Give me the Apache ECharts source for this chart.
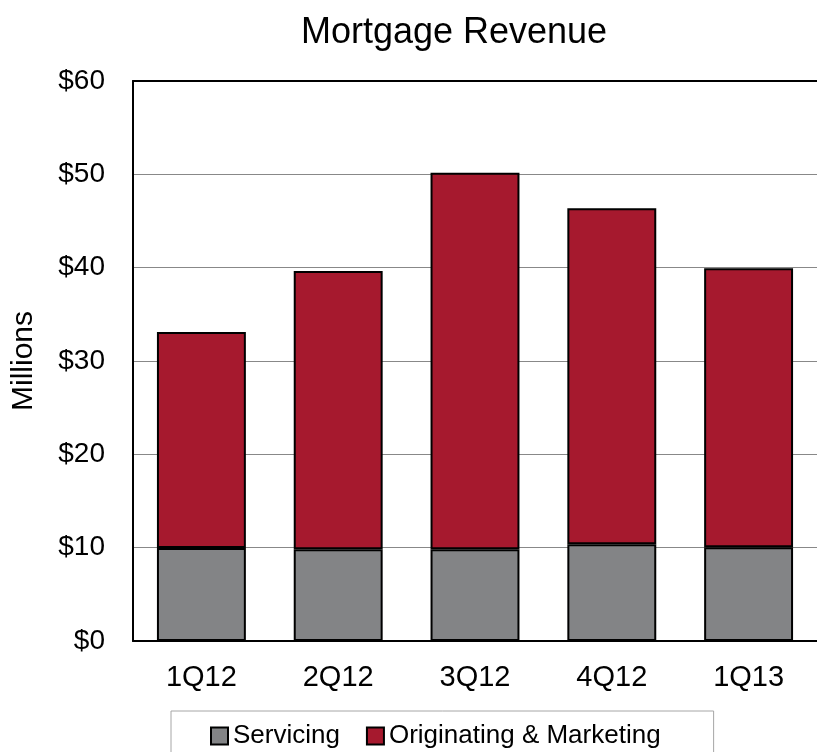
<!DOCTYPE html>
<html>
<head>
<meta charset="utf-8">
<script src="https://cdn.jsdelivr.net/npm/echarts@6/dist/echarts.min.js"></script>
<style>
  html, body { margin: 0; padding: 0; background: #fff; }
  #chart { width: 817px; height: 752px; }
</style>
</head>
<body>
<div id="chart"></div>
<script>
const quarters = ['1Q12', '2Q12', '3Q12', '4Q12', '1Q13']
const servicing = [9.96, 9.82, 9.84, 10.37, 10.05]
const originating = [23.14, 29.82, 40.34, 35.99, 29.89]
const yTicks = [0, 10, 20, 30, 40, 50, 60]

const font = 'Liberation Sans, Arial, sans-serif'
const myChart = echarts.init(document.getElementById('chart'))

const options = {
  animation: false,
  title: {
    text: 'Mortgage Revenue',
    left: 449,
    textAlign: 'center',
    top: 10,
    textStyle: { fontFamily: font, fontSize: 36, fontWeight: 'normal', color: '#000' }
  },
  legend: {
    top: 711,
    left: 171,
    itemGap: 26,
    itemWidth: 17,
    itemHeight: 17,
    borderColor: '#a6a6a6',
    borderWidth: 1,
    padding: [12, 53, 20, 39],
    icon: 'rect',
    textStyle: { fontFamily: font, fontSize: 26, color: '#000', padding: [0, 0, 0, 0] },
    data: [
      { name: 'Servicing', itemStyle: { borderColor: '#000', borderWidth: 2 } },
      { name: 'Originating & Marketing', itemStyle: { borderColor: '#000', borderWidth: 2 } }
    ]
  },
  grid: { left: 133, top: 81, right: -10, bottom: 111 },
  xAxis: [
    {
      type: 'category',
      data: quarters,
      axisLine: { lineStyle: { color: '#000', width: 2 } },
      axisTick: { show: false },
      axisLabel: { fontFamily: font, fontSize: 29, color: '#000', margin: 22 }
    },
    {
      type: 'category',
      position: 'top',
      data: quarters,
      axisLine: { lineStyle: { color: '#000', width: 2 } },
      axisTick: { show: false },
      axisLabel: { show: false }
    }
  ],
  yAxis: {
    type: 'value',
    min: yTicks[0],
    max: yTicks[yTicks.length - 1],
    interval: 10,
    name: 'Millions',
    nameLocation: 'middle',
    nameGap: 94,
    nameTextStyle: { fontFamily: font, fontSize: 30, color: '#000' },
    axisLine: { show: true, lineStyle: { color: '#000', width: 2 } },
    axisTick: { show: false },
    axisLabel: { fontFamily: font, fontSize: 28, color: '#000', margin: 28, formatter: v => '$' + v },
    splitLine: { lineStyle: { color: '#888', width: 1 } }
  },
  series: [
    {
      name: 'Servicing',
      type: 'bar',
      stack: 'total',
      barWidth: '65%',
      data: servicing,
      itemStyle: { color: '#838486', borderColor: '#000', borderWidth: 2 }
    },
    {
      name: 'Originating & Marketing',
      type: 'bar',
      stack: 'total',
      data: originating,
      itemStyle: { color: '#a6192e', borderColor: '#000', borderWidth: 2 }
    }
  ]
}
myChart.setOption(options)
</script>
</body>
</html>
